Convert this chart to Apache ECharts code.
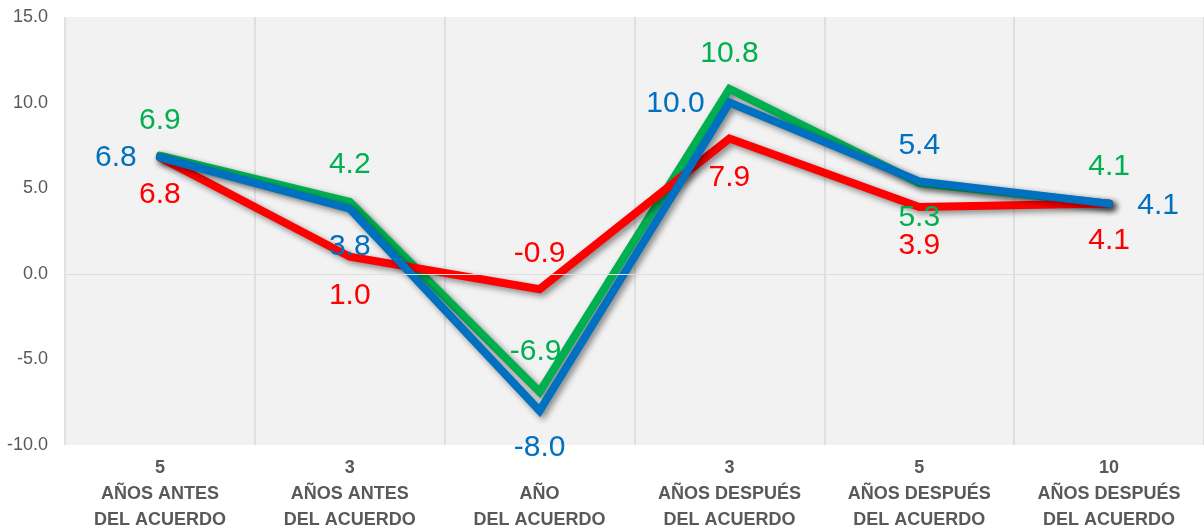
<!DOCTYPE html>
<html>
<head>
<meta charset="utf-8">
<script src="https://cdn.jsdelivr.net/npm/echarts@6/dist/echarts.min.js"></script>
<style>
  html, body { margin: 0; padding: 0; background: #fff; }
  #chart { width: 1204px; height: 529px; }
</style>
</head>
<body>
<div id="chart"></div>
<script>
// categories and values
var categories = [
    '5\nAÑOS ANTES\nDEL ACUERDO',
    '3\nAÑOS ANTES\nDEL ACUERDO',
    ' \nAÑO\nDEL ACUERDO',
    '3\nAÑOS DESPUÉS\nDEL ACUERDO',
    '5\nAÑOS DESPUÉS\nDEL ACUERDO',
    '10\nAÑOS DESPUÉS\nDEL ACUERDO'
];
var greenValues = [6.9, 4.2, -6.9, 10.8, 5.3, 4.1];
var blueValues = [6.8, 3.8, -8.0, 10.0, 5.4, 4.1];
var redValues = [6.8, 1.0, -0.9, 7.9, 3.9, 4.1];

// label offsets from each point (label centre)
var greenLabelOffsets = [[0, -35], [0, -37], [-4, -40], [0, -35], [0, 35], [0, -37]];
var blueLabelOffsets = [[-44, 0], [0, 38], [0, 37], [-54, 1], [0, -36], [49, 2]];
var redLabelOffsets = [[0, 37], [0, 39], [0, -35], [0, 39], [0, 39], [0, 37]];

function buildPoints(values, offsets) {
    return values.map(function (v, i) {
        return { value: v, label: { offset: offsets[i] } };
    });
}

function lineSeries(name, color, values, offsets) {
    return {
        name: name,
        type: 'line',
        data: buildPoints(values, offsets),
        symbol: 'circle',
        symbolSize: 1,
        itemStyle: { color: color },
        lineStyle: {
            color: color,
            width: 8,
            cap: 'round',
            join: 'miter',
            shadowColor: 'rgba(0,0,0,0.45)',
            shadowBlur: 6,
            shadowOffsetX: 3,
            shadowOffsetY: 3
        },
        label: {
            show: true,
            position: 'inside',
            color: color,
            fontSize: 30,
            fontFamily: 'Liberation Sans',
            formatter: function (p) { return p.value.toFixed(1); }
        },
        emphasis: { disabled: true },
        animation: false
    };
}

var chart = echarts.init(document.getElementById('chart'));
var greenSeries = lineSeries('verde', '#00b050', greenValues, greenLabelOffsets);
greenSeries.markLine = {
    silent: true,
    symbol: 'none',
    label: { show: false },
    lineStyle: { color: '#dedede', width: 1, type: 'solid' },
    data: [{ yAxis: 0 }]
};

var option = {
    backgroundColor: '#ffffff',
    grid: {
        left: 65,
        right: 0,
        top: 17,
        bottom: 84,
        outerBoundsMode: 'none',
        show: true,
        backgroundColor: '#f2f2f2',
        borderWidth: 0
    },
    xAxis: {
        type: 'category',
        data: categories,
        boundaryGap: true,
        axisLine: { show: false },
        axisTick: { show: false },
        splitLine: { show: true, lineStyle: { color: '#d9d9d9', width: 1.5 } },
        axisLabel: {
            interval: 0,
            margin: 10,
            color: '#595959',
            fontSize: 18,
            fontWeight: 'bold',
            fontFamily: 'Liberation Sans',
            lineHeight: 26
        }
    },
    yAxis: {
        type: 'value',
        min: -10,
        max: 15,
        interval: 5,
        axisLine: { show: false },
        axisTick: { show: false },
        splitLine: { show: false },
        axisLabel: {
            margin: 17,
            color: '#595959',
            fontSize: 18,
            fontFamily: 'Liberation Sans',
            formatter: function (v) { return v.toFixed(1); }
        }
    },
    series: [
        greenSeries,
        lineSeries('rojo', '#ff0000', redValues, redLabelOffsets),
        lineSeries('azul', '#0070c0', blueValues, blueLabelOffsets)
    ]
};
chart.setOption(option);
</script>
</body>
</html>
